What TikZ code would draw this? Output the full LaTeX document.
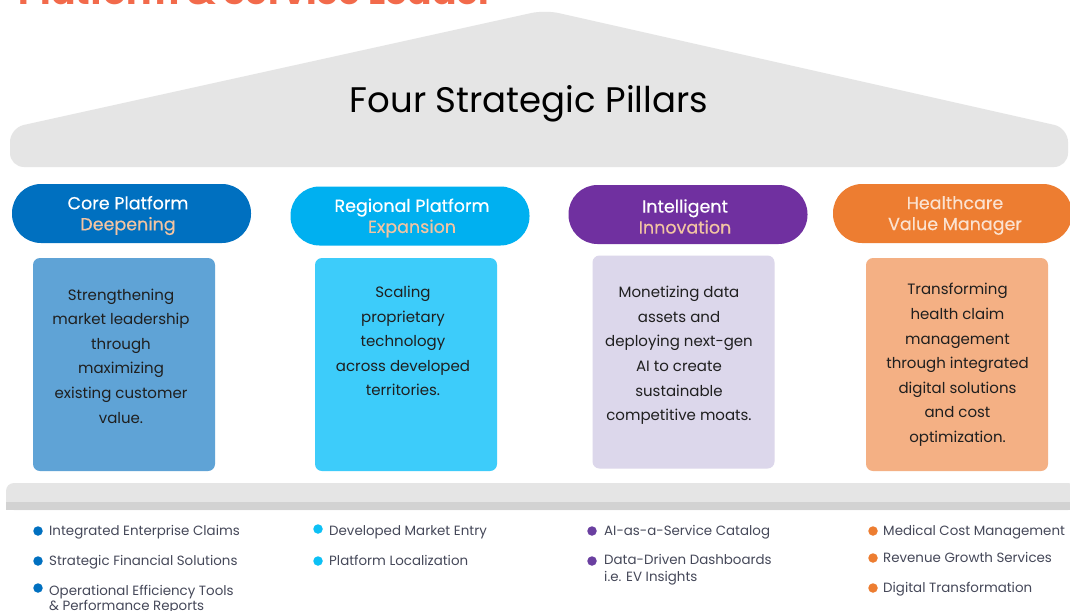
\documentclass[tikz,border=0pt]{standalone}
\usepackage{fontspec}
\setmainfont{Poppins}
\definecolor{roofgray}{HTML}{E5E5E5}
\definecolor{stripgray}{HTML}{D2D2D2}
\definecolor{cA}{HTML}{0070C0}
\definecolor{cB}{HTML}{00B0F0}
\definecolor{cC}{HTML}{7030A0}
\definecolor{cD}{HTML}{ED7D31}
\definecolor{bA}{HTML}{5FA3D6}
\definecolor{bB}{HTML}{3DCCFA}
\definecolor{bC}{HTML}{DCD7EB}
\definecolor{bD}{HTML}{F4B084}
\definecolor{peach}{HTML}{F2C4A2}
\definecolor{peachlt}{HTML}{FBE2D0}
\definecolor{bodytxt}{HTML}{1F1F1F}
\definecolor{bullettxt}{HTML}{454859}
\definecolor{toporange}{HTML}{F26A4B}
\definecolor{dotB}{HTML}{0CC0F5}
\definecolor{dotC}{HTML}{6A3FA0}
\begin{document}
\begin{tikzpicture}[x=1pt,y=-1pt,
  pill/.style={draw=none, minimum width=239pt, minimum height=59pt, rounded corners=29pt, inner sep=0pt},
  pilltext/.style={align=center, inner sep=0pt, font=\fontsize{17.5}{21}\selectfont\addfontfeatures{FakeBold=0.4}, text=white},
  box/.style={draw=none, minimum width=182pt, minimum height=213pt, rounded corners=7pt, inner sep=0pt},
  boxtext/.style={align=center, inner sep=0pt, text=bodytxt, font=\fontsize{15}{24.6}\selectfont},
  dot/.style={circle, minimum size=9.5pt, inner sep=0pt, draw=none},
  btxt/.style={anchor=base west, inner sep=0pt, text=bullettxt, font=\fontsize{13.4}{16}\selectfont}]
\clip (0,0) rectangle (1070,610);
\fill[white] (0,0) rectangle (1070,610);
% cut-off heading
\node[anchor=base west, inner sep=0pt, text=toporange, font=\fontsize{36}{40}\selectfont\bfseries] (heading) at (18,5) {Platform \& Service Leader};
% roof
\fill[roofgray, rounded corners=14pt] (10,167) -- (10,128) -- (545,10) -- (1068,128) -- (1068,167) -- cycle;
\node[inner sep=0pt, font=\fontsize{35.5}{40}\selectfont] (rooftitle) at (529,103.5) {Four Strategic Pillars};
% pills
\node[pill, fill=cA] (p1) at (131.5,213.5) {};
\node[pill, fill=cB] (p2) at (410,216) {};
\node[pill, fill=cC] (p3) at (688,214.5) {};
\node[pill, fill=cD] (p4) at (952.5,213.5) {};
\node[pilltext] (p1t) at (128,215.5) {Core Platform\\\textcolor{peach}{Deepening}};
\node[pilltext] (p2t) at (412,218) {Regional Platform\\\textcolor{peach}{Expansion}};
\node[pilltext] (p3t) at (685,216.5) {Intelligent\\\textcolor{peach}{Innovation}};
\node[pilltext, text=peachlt] (p4t) at (955,215.5) {Healthcare\\Value Manager};
% boxes
\node[box, fill=bA] (b1) at (124,364.5) {};
\node[box, fill=bB] (b2) at (406,364.5) {};
\node[box, fill=bC] (b3) at (683.5,362) {};
\node[box, fill=bD] (b4) at (957,364.5) {};
\node[boxtext] (t1) at (121,356) {Strengthening\\market leadership\\through\\maximizing\\existing customer\\value.};
\node[boxtext] (t2) at (403,341) {Scaling\\proprietary\\technology\\across developed\\territories.};
\node[boxtext] (t3) at (679,355.5) {Monetizing data\\assets and\\deploying next-gen\\AI to create\\sustainable\\competitive moats.};
\node[boxtext] (t4) at (957.5,365) {Transforming\\health claim\\management\\through integrated\\digital solutions\\and cost\\optimization.};
% base bar
\fill[roofgray, rounded corners=8pt] (6,510) -- (6,483) -- (1076,483) -- (1076,510) -- cycle;
\fill[stripgray] (6,502) rectangle (1076,510);
% bullets column 1
\node[dot, fill=cA] (d11) at (38,531) {};
\node[btxt] (l11) at (49,535) {Integrated Enterprise Claims};
\node[dot, fill=cA] (d12) at (38,561) {};
\node[btxt] (l12) at (49,565) {Strategic Financial Solutions};
\node[dot, fill=cA] (d13) at (38,588) {};
\node[btxt] (l13) at (49,595) {Operational Efficiency Tools};
\node[btxt] (l13b) at (49,610) {\& Performance Reports};
% column 2
\node[dot, fill=dotB] (d21) at (318,529) {};
\node[btxt] (l21) at (329,535) {Developed Market Entry};
\node[dot, fill=dotB] (d22) at (318,561) {};
\node[btxt] (l22) at (329,565) {Platform Localization};
% column 3
\node[dot, fill=dotC] (d31) at (592,531) {};
\node[btxt] (l31) at (604,535) {AI-as-a-Service Catalog};
\node[dot, fill=dotC] (d32) at (592,561) {};
\node[btxt] (l32) at (604,564) {Data-Driven Dashboards};
\node[btxt] (l32b) at (604,581) {i.e. EV Insights};
% column 4
\node[dot, fill=cD] (d41) at (873,531) {};
\node[btxt] (l41) at (883,535) {Medical Cost Management};
\node[dot, fill=cD] (d42) at (873,558) {};
\node[btxt] (l42) at (883,562) {Revenue Growth Services};
\node[dot, fill=cD] (d43) at (873,588) {};
\node[btxt] (l43) at (883,592) {Digital Transformation};
\end{tikzpicture}
\end{document}
